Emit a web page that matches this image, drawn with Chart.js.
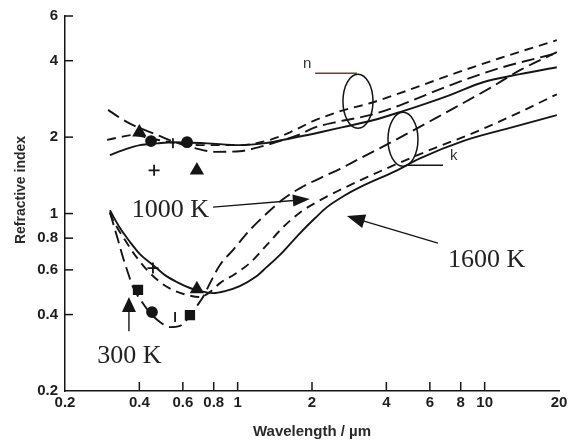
<!DOCTYPE html>
<html><head><meta charset="utf-8">
<script src="https://cdn.jsdelivr.net/npm/chart.js@4/dist/chart.umd.min.js"></script>
<style>html,body{margin:0;padding:0;background:#fff}#wrap{width:574px;height:441px}</style>
</head><body><div id="wrap"><canvas id="c" width="574" height="441"></canvas></div>
<script>
// ---- axis ticks ----
const xTicks = [0.2, 0.4, 0.6, 0.8, 1, 2, 4, 6, 8, 10, 20];
const yTicks = [0.2, 0.4, 0.6, 0.8, 1, 2, 4, 6];

// ---- refractive index n (upper group) ----
const n300Wl  = [0.299,0.334,0.377,0.422,0.472,0.558,0.672,0.81,1.02,1.23,1.48,1.79,2.02,2.60,3.43,4.54,7.24,11.5,19.6];
const n300Val = [2.56,2.38,2.23,2.13,2.04,1.91,1.81,1.75,1.76,1.83,1.93,2.05,2.17,2.31,2.44,2.67,3.20,3.74,4.28];
const n1000Wl  = [0.296,0.334,0.377,0.442,0.532,0.704,1.02,1.35,1.63,2.02,2.60,3.43,4.54,7.24,11.5,19.6];
const n1000Val = [1.95,2.00,2.04,1.98,1.91,1.86,1.86,1.95,2.09,2.31,2.53,2.72,2.98,3.51,4.09,4.82];
const n1600Wl  = [0.304,0.350,0.402,0.472,0.547,0.752,1.02,1.27,1.74,2.16,2.67,3.53,4.54,7.24,9.85,13.9,19.6];
const n1600Val = [1.70,1.79,1.86,1.89,1.91,1.89,1.86,1.89,2.00,2.09,2.19,2.33,2.51,2.93,3.29,3.54,3.77];

// ---- absorption index k (lower group) ----
const k300Wl  = [0.304,0.313,0.328,0.343,0.360,0.377,0.410,0.442,0.485,0.532,0.584,0.641,0.684,0.724,0.773,0.848,0.957,1.12,1.31,1.53,1.79,2.16,2.60,3.13,3.77,6.01,10.5,13.9,19.6];
const k300Val = [1.01,0.917,0.786,0.674,0.583,0.513,0.448,0.406,0.374,0.357,0.361,0.395,0.432,0.469,0.532,0.627,0.718,0.861,1.00,1.14,1.26,1.38,1.50,1.65,1.81,2.31,3.12,3.67,4.32];
const k1000Wl  = [0.304,0.313,0.350,0.384,0.430,0.485,0.547,0.624,0.704,0.773,0.848,0.976,1.12,1.31,1.53,1.79,2.16,2.60,3.13,4.42,6.01,9.57,13.9,19.6];
const k1000Val = [1.01,0.942,0.786,0.686,0.599,0.537,0.500,0.478,0.469,0.491,0.532,0.578,0.638,0.751,0.885,1.01,1.13,1.24,1.35,1.57,1.78,2.13,2.51,2.95];
const k1600Wl  = [0.304,0.334,0.367,0.402,0.454,0.508,0.568,0.641,0.704,0.795,0.889,1.02,1.18,1.31,1.48,1.79,2.06,2.30,2.72,3.13,4.42,5.47,8.17,13.0,19.6];
const k1600Val = [1.03,0.877,0.772,0.692,0.627,0.572,0.537,0.509,0.495,0.486,0.495,0.518,0.562,0.615,0.686,0.838,0.960,1.06,1.18,1.27,1.48,1.65,1.93,2.19,2.44];

// ---- measured points ----
const circleWl  = [0.446, 0.624, 0.45];
const circleVal = [1.93, 1.91, 0.409];
const triWl  = [0.40, 0.684, 0.684];
const triVal = [2.09, 1.48, 0.504];
const squareWl  = [0.395, 0.641];
const squareVal = [0.50, 0.398];
const plusWl  = [0.459, 0.454];
const plusVal = [1.48, 0.61];
const barWl  = [0.547, 0.558];
const barVal = [1.89, 0.391];

const pts = (xs, ys) => xs.map((x, i) => ({x, y: ys[i]}));
const INK = '#151515';
function curve(label, xs, ys, dash) {
  return {label, data: pts(xs, ys), borderColor: INK, borderWidth: 1.9, borderDash: dash,
    pointRadius: 0, fill: false, cubicInterpolationMode: 'monotone'};
}
function marks(label, xs, ys, style, r, rot) {
  return {label, data: pts(xs, ys), showLine: false, pointStyle: style, pointRadius: r,
    pointRotation: rot || 0, pointBackgroundColor: INK, pointBorderColor: INK, pointBorderWidth: 1.8};
}

const overlay = {
  id: 'overlay',
  afterDraw(chart) {
    const {ctx, chartArea: a, scales: {x, y}} = chart;
    const P = (l, v) => [x.getPixelForValue(l), y.getPixelForValue(v)];
    ctx.save();
    ctx.strokeStyle = INK; ctx.fillStyle = INK; ctx.lineWidth = 1.5;
    // inward tick marks
    xTicks.forEach((t, i) => {
      if (i === 0 || i === xTicks.length - 1) return;
      const px = x.getPixelForValue(t);
      ctx.beginPath(); ctx.moveTo(px, a.bottom); ctx.lineTo(px, a.bottom - 9); ctx.stroke();
    });
    yTicks.forEach((t, i) => {
      if (i === 0) return;
      const py = y.getPixelForValue(t);
      ctx.beginPath(); ctx.moveTo(a.left, py); ctx.lineTo(a.left + 8, py); ctx.stroke();
    });
    // y title
    ctx.save();
    ctx.translate(21, 190); ctx.rotate(-Math.PI / 2);
    ctx.font = 'bold 14px "Liberation Sans", Arial, sans-serif';
    ctx.fillStyle = '#2a2a2a'; ctx.textAlign = 'center'; ctx.textBaseline = 'middle';
    ctx.fillText('Refractive index', 0, 0);
    ctx.restore();

    // arrows
    function arrow(p0, p1, len, half) {
      const ang = Math.atan2(p1[1] - p0[1], p1[0] - p0[0]);
      const c = Math.cos(ang), s = Math.sin(ang);
      ctx.lineWidth = 1.4;
      ctx.beginPath(); ctx.moveTo(p0[0], p0[1]); ctx.lineTo(p1[0] - c * len * 0.6, p1[1] - s * len * 0.6); ctx.stroke();
      ctx.beginPath();
      ctx.moveTo(p1[0], p1[1]);
      ctx.lineTo(p1[0] - c * len - s * half, p1[1] - s * len + c * half);
      ctx.lineTo(p1[0] - c * len + s * half, p1[1] - s * len - c * half);
      ctx.closePath(); ctx.fill();
    }
    ctx.font = '26px "Liberation Serif", "Times New Roman", serif';
    ctx.fillStyle = '#222'; ctx.textBaseline = 'alphabetic'; ctx.textAlign = 'left';
    let p = P(0.373, 0.968); ctx.fillText('1000 K', p[0], p[1]);
    p = P(7.11, 0.615); ctx.fillText('1600 K', p[0], p[1]);
    p = P(0.270, 0.258); ctx.fillText('300 K', p[0], p[1]);
    ctx.fillStyle = INK;
    arrow(P(0.795, 1.06), P(1.96, 1.14), 17, 6);
    arrow(P(6.47, 0.765), P(2.77, 0.977), 18, 7);
    arrow(P(0.363, 0.344), P(0.363, 0.469), 15, 7);

    // n / k ellipses and leaders
    ctx.lineWidth = 1.5; ctx.strokeStyle = INK;
    p = P(3.07, 2.77); ctx.beginPath(); ctx.ellipse(p[0], p[1], 15, 27, 0, 0, Math.PI * 2); ctx.stroke();
    p = P(4.67, 1.96); ctx.beginPath(); ctx.ellipse(p[0], p[1], 15, 27, 0, 0, Math.PI * 2); ctx.stroke();
    ctx.lineWidth = 1.3;
    ctx.strokeStyle = '#7a3b2a';
    let q0 = P(2.06, 3.57), q1 = P(3.04, 3.57);
    ctx.beginPath(); ctx.moveTo(q0[0], q0[1]); ctx.lineTo(q1[0], q1[1]); ctx.stroke();
    ctx.strokeStyle = INK;
    q0 = P(4.80, 1.55); q1 = P(6.78, 1.55);
    ctx.beginPath(); ctx.moveTo(q0[0], q0[1]); ctx.lineTo(q1[0], q1[1]); ctx.stroke();
    ctx.font = '15px "Liberation Sans", Arial, sans-serif';
    ctx.fillStyle = '#333';
    p = P(1.84, 3.74); ctx.fillText('n', p[0], p[1]);
    p = P(7.24, 1.62); ctx.fillText('k', p[0], p[1]);
    ctx.restore();
  }
};

const tickFont = {family: '"Liberation Sans", Arial, sans-serif', size: 15, weight: 'bold'};
new Chart(document.getElementById('c'), {
  type: 'line',
  data: {
    datasets: [
      curve('n 300 K', n300Wl, n300Val, [13, 6]),
      curve('n 1000 K', n1000Wl, n1000Val, [9, 6]),
      curve('n 1600 K', n1600Wl, n1600Val, []),
      curve('k 300 K', k300Wl, k300Val, [13, 6]),
      curve('k 1000 K', k1000Wl, k1000Val, [9, 6]),
      curve('k 1600 K', k1600Wl, k1600Val, []),
      marks('circles', circleWl, circleVal, 'circle', 5),
      marks('triangles', triWl, triVal, 'triangle', 6.5),
      marks('squares', squareWl, squareVal, 'rect', 6),
      marks('plus', plusWl, plusVal, 'cross', 5.5),
      marks('bars', barWl, barVal, 'line', 5, 90)
    ]
  },
  options: {
    responsive: false, animation: false, devicePixelRatio: 1,
    layout: {padding: {top: 16, right: 15, left: 0, bottom: 0}},
    plugins: {legend: {display: false}, tooltip: {enabled: false}},
    scales: {
      x: {
        type: 'logarithmic', min: 0.2, max: 20,
        afterBuildTicks: s => { s.ticks = xTicks.map(v => ({value: v})); },
        afterFit: s => { s.height = 50; },
        grid: {display: false, drawTicks: false},
        border: {display: true, color: INK, width: 1.5},
        ticks: {autoSkip: false, maxRotation: 0, padding: 3, color: '#1e1e1e', font: tickFont,
          callback: v => String(v)},
        title: {display: true, text: 'Wavelength / µm', color: '#2a2a2a',
          font: {family: '"Liberation Sans", Arial, sans-serif', size: 15, weight: 'bold'},
          padding: {top: 0, bottom: 0}}
      },
      y: {
        type: 'logarithmic', min: 0.2, max: 6,
        afterBuildTicks: s => { s.ticks = yTicks.map(v => ({value: v})); },
        afterFit: s => { s.width = 65; },
        grid: {display: false, drawTicks: false},
        border: {display: true, color: INK, width: 1.5},
        ticks: {autoSkip: false, padding: 7, color: '#1e1e1e', font: tickFont,
          callback: v => String(v)}
      }
    }
  },
  plugins: [overlay]
});
</script>
</body></html>
